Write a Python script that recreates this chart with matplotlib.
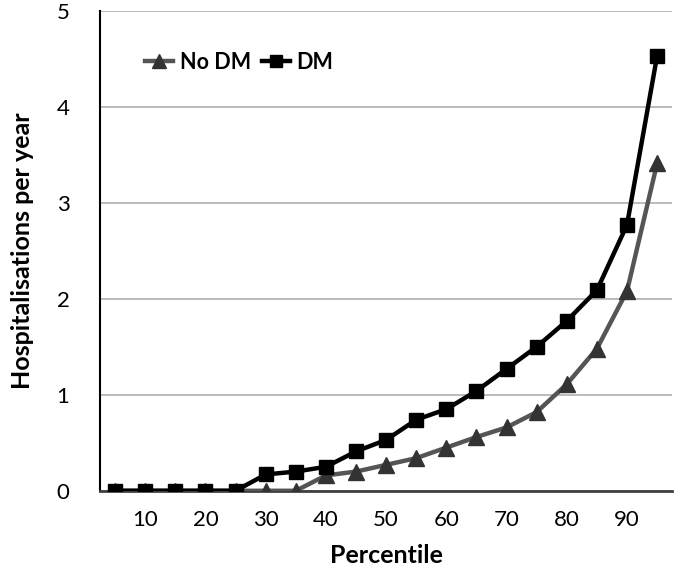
import numpy as np
import matplotlib.pyplot as plt

plt.rcParams['font.family'] = ['Lato', 'DejaVu Sans']

percentile = [5, 10, 15, 20, 25, 30, 35, 40, 45, 50, 55, 60, 65, 70, 75, 80, 85, 90, 95]
no_dm = [0, 0, 0, 0, 0, 0, 0, 0.16, 0.20, 0.27, 0.34, 0.45, 0.56, 0.66, 0.82, 1.11, 1.48, 2.08, 3.41]
dm = [0, 0, 0, 0, 0, 0.17, 0.20, 0.25, 0.41, 0.53, 0.74, 0.85, 1.04, 1.27, 1.50, 1.77, 2.09, 2.77, 4.53]

x = np.arange(len(percentile))

fig = plt.figure(figsize=(6.81, 5.72), dpi=100)
ax = fig.add_axes([0.147, 0.142, 0.840, 0.839])

ax.plot(x, no_dm, '-^', color='#555555', mfc='#333333', mec='#333333',
        lw=3.2, ms=11, label='No DM', zorder=3)
ax.plot(x, dm, '-s', color='black', lw=3.2, ms=10, label='DM', zorder=4)

ax.set_xlim(-0.5, len(x) - 0.5)
ax.set_ylim(0, 5)
ax.set_yticks(range(0, 6))
ax.set_xticks(x[1::2])
ax.set_xticklabels([str(p) for p in percentile[1::2]])
ax.tick_params(axis='both', length=0, labelsize=16)
ax.tick_params(axis='y', pad=22)
ax.tick_params(axis='x', pad=14)
ax.grid(axis='y', color='#b0b0b0', lw=1.2)
ax.set_axisbelow(True)

for s in ['top', 'right']:
    ax.spines[s].set_visible(False)
ax.spines['left'].set_color('black')
ax.spines['left'].set_linewidth(1.5)
ax.spines['bottom'].set_color('#404040')
ax.spines['bottom'].set_linewidth(2)

ax.set_xlabel('Percentile', fontsize=18, fontweight='bold', labelpad=10)
ax.set_ylabel('Hospitalisations per year', fontsize=18, fontweight='bold', labelpad=16)

ax.legend(loc='upper left', bbox_to_anchor=(0.045, 0.955), ncol=2, frameon=False,
          prop={'size': 15.5, 'weight': 'bold'}, handlelength=1.3, columnspacing=0.5,
          handletextpad=0.3, markerscale=0.9)

fig.savefig('out.png', dpi=100)
